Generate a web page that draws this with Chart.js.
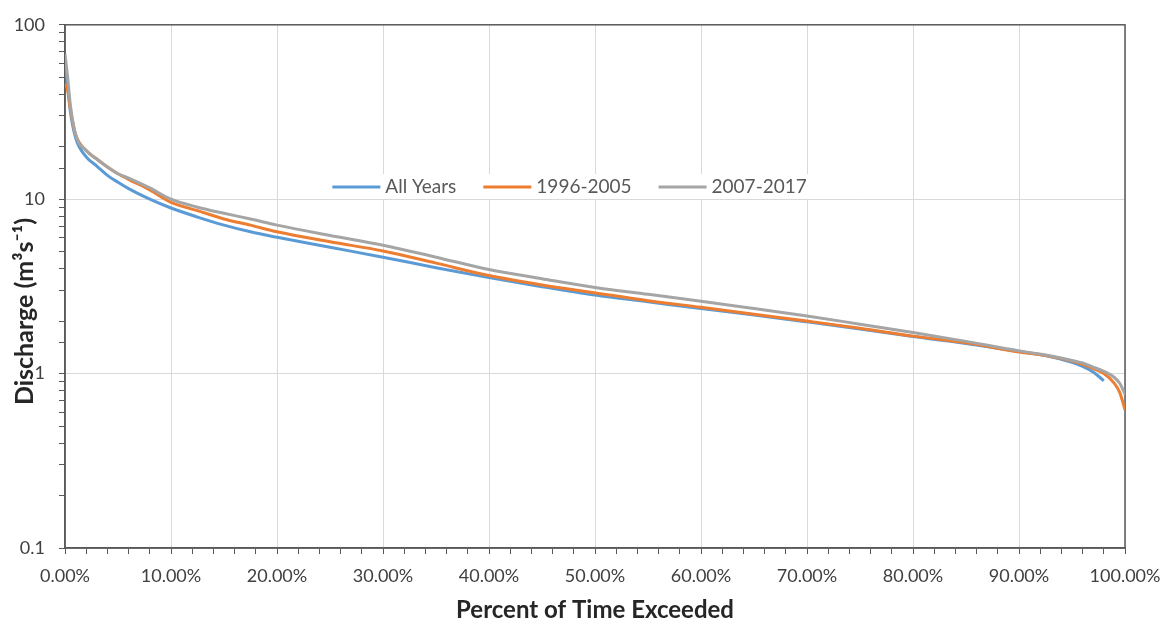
<!DOCTYPE html>
<html>
<head>
<meta charset="utf-8">
<script src="https://cdn.jsdelivr.net/npm/chart.js@4"></script>
<style>
  html, body { margin: 0; padding: 0; background: #fff; }
  #wrap { width: 1163px; height: 622px; }
</style>
</head>
<body>
<div id="wrap"><canvas id="fdc" width="1163" height="622"></canvas></div>
<script>
// percent of time exceeded (x) and discharge values
const percentExceeded = [0, 0.25, 0.5, 1, 2, 3, 4, 5, 6, 8, 10, 12.5, 15, 17.5, 20, 25, 30, 35, 40, 45, 50, 55, 60, 65, 70, 75, 80, 85, 90, 92.5, 95, 96, 97, 98, 99, 99.5, 100];
const allYears = [60, 45, 32, 22.5, 17.5, 15.5, 13.7, 12.5, 11.5, 10.0, 8.9, 7.9, 7.1, 6.5, 6.05, 5.3, 4.65, 4.05, 3.55, 3.15, 2.82, 2.58, 2.36, 2.17, 1.98, 1.8, 1.63, 1.49, 1.34, 1.27, 1.16, 1.1, 1.02, 0.91, null, null, null];
const years1996 = [46, 42, 33, 23.5, 19, 17, 15.3, 14, 13, 11.3, 9.6, 8.6, 7.7, 7.1, 6.5, 5.7, 5.05, 4.3, 3.65, 3.22, 2.9, 2.62, 2.4, 2.19, 2.0, 1.82, 1.64, 1.5, 1.33, 1.27, 1.18, 1.13, 1.07, 1.0, 0.88, 0.78, 0.62];
const years2007 = [68, 50, 35, 23.5, 19, 17, 15.3, 14, 13.2, 11.6, 10.0, 9.0, 8.3, 7.7, 7.1, 6.2, 5.45, 4.65, 3.95, 3.5, 3.12, 2.85, 2.6, 2.36, 2.14, 1.92, 1.72, 1.53, 1.35, 1.28, 1.19, 1.15, 1.09, 1.03, 0.95, 0.88, 0.76];

const seriesNames = ['All Years', '1996-2005', '2007-2017'];
const seriesColors = ['#5b9bd5', '#ed7d31', '#a5a5a5'];
const majorY = [0.1, 1, 10, 100];
const yTitle = 'Discharge (m³s⁻¹)';

const FONT = 'Lato';
const TEXT = '#404040';

function toPoints(vals) {
    return percentExceeded.map((x, i) => ({ x: x, y: vals[i] }));
}

function isMajor(v) {
    return majorY.some(m => Math.abs(v - m) < m * 1e-6);
}

// plot frame like excel (dark top / right border)
const frame = {
    id: 'frame',
    beforeDatasetsDraw(chart) {
        const { ctx, chartArea: a } = chart;
        ctx.save();
        ctx.strokeStyle = '#595959';
        ctx.lineWidth = 1.5;
        ctx.strokeRect(a.left, a.top, a.right - a.left, a.bottom - a.top);
        ctx.restore();
    }
};

// y title sits a bit below the middle of the axis, as in the excel original
const sideTitle = {
    id: 'sideTitle',
    afterDraw(chart) {
        const { ctx, chartArea: a } = chart;
        ctx.save();
        ctx.translate(25, a.top + (a.bottom - a.top) * 0.548);
        ctx.rotate(-Math.PI / 2);
        ctx.font = 'bold 25px ' + FONT;
        ctx.fillStyle = '#262626';
        ctx.textAlign = 'center';
        ctx.textBaseline = 'middle';
        ctx.fillText(yTitle, 0, 0);
        ctx.restore();
    }
};

// legend sitting inside the plot, with white box behind it
const innerLegend = {
    id: 'innerLegend',
    afterDatasetsDraw(chart) {
        const { ctx, chartArea: a } = chart;
        ctx.save();
        ctx.font = '19px ' + FONT;
        const lineLen = 48, gap = 5, spacing = 27;
        const widths = seriesNames.map(n => lineLen + gap + ctx.measureText(n).width);
        const total = widths.reduce((s, w) => s + w, 0) + spacing * (seriesNames.length - 1);
        let x = a.left + (a.right - a.left) * 0.476 - total / 2;
        const y = a.top + (a.bottom - a.top) * 0.31;
        ctx.fillStyle = '#fff';
        ctx.fillRect(x - 6, y - 13, total + 12, 25);
        seriesNames.forEach((n, i) => {
            ctx.strokeStyle = seriesColors[i];
            ctx.lineWidth = 3;
            ctx.beginPath();
            ctx.moveTo(x, y);
            ctx.lineTo(x + lineLen, y);
            ctx.stroke();
            ctx.fillStyle = '#595959';
            ctx.textBaseline = 'middle';
            ctx.fillText(n, x + lineLen + gap, y);
            x += widths[i] + spacing;
        });
        ctx.restore();
    }
};

const datasets = [allYears, years1996, years2007].map((vals, i) => ({
    label: seriesNames[i],
    data: toPoints(vals),
    borderColor: seriesColors[i],
    backgroundColor: seriesColors[i],
    borderWidth: 3,
    pointRadius: 0,
    tension: 0.4,
    cubicInterpolationMode: 'monotone',
    spanGaps: false,
    order: 3 - i
}));

new Chart(document.getElementById('fdc'), {
    type: 'line',
    data: { datasets: datasets },
    options: {
        responsive: false,
        animation: false,
        layout: { padding: { top: 23, right: 38, left: 0, bottom: 0 } },
        plugins: { legend: { display: false }, tooltip: { enabled: false } },
        scales: {
            x: {
                type: 'linear',
                min: 0,
                max: 100,
                afterFit(s) {
                    s.height = 74;
                    s.paddingLeft = 0;
                    s.paddingRight = 0;
                },
                border: { color: '#595959', width: 1.5 },
                grid: {
                    color: c => (c.tick && c.tick.value % 10 === 0) ? '#d9d9d9' : 'rgba(0,0,0,0)',
                    tickColor: '#595959',
                    tickLength: 6,
                    drawOnChartArea: true
                },
                ticks: {
                    stepSize: 2,
                    autoSkip: false,
                    maxRotation: 0,
                    padding: 11,
                    color: TEXT,
                    font: { family: FONT, size: 18 },
                    callback: v => v % 10 === 0 ? v.toFixed(2) + '%' : ''
                },
                title: {
                    display: true,
                    text: 'Percent of Time Exceeded',
                    color: '#262626',
                    font: { family: FONT, size: 24, weight: 'bold', lineHeight: 1 },
                    padding: { top: 4, bottom: 0 }
                }
            },
            y: {
                type: 'logarithmic',
                min: 0.1,
                max: 100,
                afterFit(s) { s.width = 65; },
                border: { color: '#595959', width: 1.5 },
                grid: {
                    color: c => (c.tick && isMajor(c.tick.value)) ? '#d9d9d9' : 'rgba(0,0,0,0)',
                    tickColor: '#595959',
                    tickLength: 6
                },
                ticks: {
                    autoSkip: false,
                    padding: 14,
                    color: TEXT,
                    font: { family: FONT, size: 18 },
                    callback: v => isMajor(v) ? String(v) : ''
                },
                title: { display: false }
            }
        }
    },
    plugins: [frame, innerLegend, sideTitle]
});
</script>
</body>
</html>
